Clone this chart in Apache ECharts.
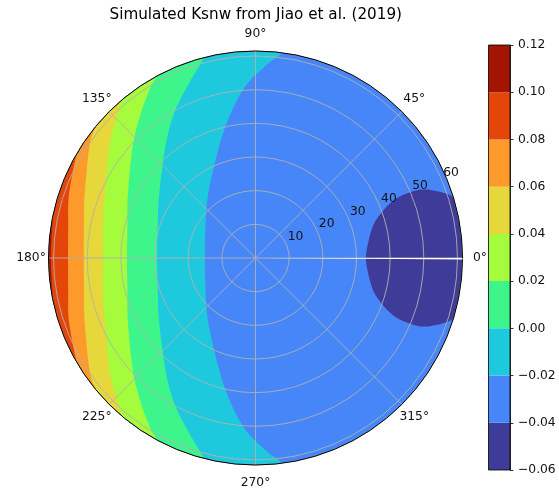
<!DOCTYPE html>
<html>
<head>
<meta charset="utf-8">
<script src="https://cdn.jsdelivr.net/npm/echarts@6/dist/echarts.min.js"></script>
<style>
html, body { margin: 0; padding: 0; background: #fff; }
#chart { width: 559px; height: 490px; }
</style>
</head>
<body>
<div id="chart"></div>
<script>
// Contour levels of Ksnw and the colour of each filled band between two levels
const levels = [-0.06, -0.04, -0.02, 0.00, 0.02, 0.04, 0.06, 0.08, 0.10, 0.12];
const bandColors = ['#3f3b98', '#4686f9', '#1fc9dd', '#3ef58c', '#a4fc3c',
                    '#e6d83a', '#fe9a2c', '#e4460a', '#a41402'];

// Contour lines as [radius, angle°] points, running from the upper rim to the lower rim.
// Level -0.04 closes round the 0° side (lower half written with negative angles).
const contourM004 = [[61.5, 17], [59.9, 18.6], [54.6, 21.9], [50.3, 23.0], [45.3, 22.9],
  [40.9, 20.7], [36.7, 16.2], [34.1, 9.1], [32.8, 0], [34.1, -9.1], [36.7, -16.2],
  [40.9, -20.7], [45.3, -22.9], [50.3, -23.0], [54.6, -21.9], [59.9, -18.6], [61.5, -17]];
const contourM002 = [[61.5, 82.5], [60.1, 83.8], [57.4, 86.8], [51.4, 93.1], [44.0, 99.4],
  [35.2, 107.7], [23.4, 127.1], [16.6, 154], [15.0, 180], [16.6, 206], [23.4, 232.9],
  [35.2, 252.3], [44.0, 260.6], [51.4, 266.9], [57.4, 273.2], [60.1, 276.2], [61.5, 277.5]];
const contour000 = [[61.5, 104.2], [59.6, 106.2], [55.1, 111.4], [49.6, 119.0], [42.9, 128.5],
  [34.2, 146.9], [30.4, 163], [29.3, 180], [30.4, 197], [34.2, 213.1], [42.9, 231.5],
  [49.6, 241.0], [55.1, 248.6], [59.6, 253.8], [61.5, 255.8]];
const contour002 = [[61.5, 118.1], [59.9, 121.1], [55.1, 128.0], [49.5, 137.4], [42.3, 153.7],
  [39.3, 165.5], [38.2, 180], [39.3, 194.5], [42.3, 206.3], [49.5, 222.6], [55.1, 232.0],
  [59.9, 238.9], [61.5, 241.9]];
const contour004 = [[61.5, 130.2], [59.6, 133.3], [54.8, 142.3], [48.5, 157.4], [46.4, 167.8],
  [45.3, 180], [46.4, 192.2], [48.5, 202.6], [54.8, 217.7], [59.6, 226.7], [61.5, 229.8]];
const contour006 = [[61.5, 140.6], [59.6, 145.8], [54.1, 159.8], [51.9, 169.1], [51.0, 180],
  [51.9, 190.9], [54.1, 200.2], [59.6, 214.2], [61.5, 219.4]];
const contour008 = [[61.5, 150], [58.5, 161.4], [56.5, 170], [55.7, 180], [56.5, 190],
  [58.5, 198.6], [61.5, 210]];
const contour010 = [[61.5, 168], [60.8, 180], [61.5, 192]];

const radialTicks = [10, 20, 30, 40, 50, 60];
const angleTicks = [0, 45, 90, 135, 180, 225, 270, 315];
const rMax = 61.5;
const rLabelAngle = 22.5;

// Paint order: whole disk, then each "value above level" region, then the low pocket at 0°
const fills = [
  { line: null, band: 1 },
  { line: contourM002, band: 2 },
  { line: contour000, band: 3 },
  { line: contour002, band: 4 },
  { line: contour004, band: 5 },
  { line: contour006, band: 6 },
  { line: contour008, band: 7 },
  { line: contour010, band: 8 },
  { line: contourM004, band: 0 }
];

const FONT = 'DejaVu Sans';

// Catmull-Rom smoothing of a pixel polyline
function smoothLine(pts) {
  const out = [];
  const n = pts.length;
  for (let i = 0; i < n - 1; i++) {
    const p0 = pts[Math.max(i - 1, 0)], p1 = pts[i], p2 = pts[i + 1], p3 = pts[Math.min(i + 2, n - 1)];
    for (let s = 0; s < 12; s++) {
      const t = s / 12, t2 = t * t, t3 = t2 * t;
      const f = k => 0.5 * ((2 * p1[k]) + (-p0[k] + p2[k]) * t +
        (2 * p0[k] - 5 * p1[k] + 4 * p2[k] - p3[k]) * t2 +
        (-p0[k] + 3 * p1[k] - 3 * p2[k] + p3[k]) * t3);
      out.push([f(0), f(1)]);
    }
  }
  out.push(pts[n - 1]);
  return out;
}

function rimArc(api, a0, a1) {
  const n = Math.max(2, Math.ceil(Math.abs(a1 - a0)));
  const out = [];
  for (let k = 0; k <= n; k++) out.push(api.coord([rMax, a0 + (a1 - a0) * k / n]));
  return out;
}

function renderFill(params, api) {
  const f = fills[params.dataIndex];
  let points;
  if (!f.line) {
    points = rimArc(api, 0, 360);
  } else {
    const px = f.line.map(p => api.coord([p[0], p[1]]));
    const first = f.line[0][1], last = f.line[f.line.length - 1][1];
    points = smoothLine(px).concat(rimArc(api, last, first));
  }
  return {
    type: 'polygon',
    shape: { points: points },
    style: { fill: bandColors[f.band], stroke: null }
  };
}

const chart = echarts.init(document.getElementById('chart'), null, { renderer: 'canvas' });

const option = {
  backgroundColor: '#fff',
  animation: false,
  graphic: [{
    type: 'text',
    x: 255.8, y: 15,
    style: {
      text: 'Simulated Ksnw from Jiao et al. (2019)',
      font: '15.2px "' + FONT + '"',
      fill: '#000',
      align: 'center',
      verticalAlign: 'middle'
    }
  }],
  polar: { center: [255.5, 258], radius: 207 },
  angleAxis: {
    type: 'value', min: 0, max: 360, interval: 45,
    startAngle: 0, clockwise: false, z: 3,
    axisLine: { show: true, lineStyle: { color: '#000', width: 1 } },
    axisTick: { show: false },
    axisLabel: { show: false },
    splitLine: { show: true, lineStyle: { color: '#b0b0b0', width: 0.9 } }
  },
  radiusAxis: {
    type: 'value', min: 0, max: rMax, interval: 10, z: 3,
    axisLine: { show: false }, axisTick: { show: false }, axisLabel: { show: false },
    splitLine: { show: true, lineStyle: { color: '#b0b0b0', width: 0.9 } }
  },
  grid: {
    left: 488.5, top: 45, width: 21.5, height: 425,
    show: true, borderColor: '#000', borderWidth: 0.8, backgroundColor: 'transparent', z: 3
  },
  xAxis: { type: 'category', data: ['Ksnw'], show: false },
  yAxis: {
    type: 'value', min: levels[0], max: levels[levels.length - 1], interval: 0.02,
    position: 'right', z: 4,
    axisLine: { show: true, lineStyle: { color: '#000', width: 0.8 } },
    axisTick: { show: true, inside: false, length: 3.5, lineStyle: { color: '#000', width: 0.8 } },
    axisLabel: {
      margin: 8, fontSize: 12.3, fontFamily: FONT, color: '#111',
      formatter: v => (Math.abs(v) < 1e-9 ? 0 : v).toFixed(2).replace('-', '\u2212')
    },
    splitLine: { show: false }
  },
  series: [
    {
      // filled contour bands
      type: 'custom', coordinateSystem: 'polar', z: 2, silent: true,
      data: fills.map((f, i) => [0, 0, i]),
      renderItem: renderFill
    },
    {
      // wrap-around seam along 0°
      type: 'custom', coordinateSystem: 'polar', z: 4, silent: true,
      data: [[0, 0]],
      renderItem: (params, api) => ({
        type: 'polygon',
        shape: { points: [api.coord([0, 0]), api.coord([rMax, 0]), api.coord([rMax, -0.4])] },
        style: { fill: '#fff', stroke: null }
      })
    },
    {
      // angle tick labels round the rim
      type: 'custom', coordinateSystem: 'polar', z: 5, silent: true,
      data: angleTicks.map(a => [rMax, a]),
      renderItem: (params, api) => {
        const c = api.coord([0, 0]);
        const p = api.coord([api.value(0), api.value(1)]);
        const dx = p[0] - c[0], dy = p[1] - c[1], d = Math.hypot(dx, dy);
        const pad = 17.5;
        return {
          type: 'text',
          x: p[0] + dx / d * pad, y: p[1] + dy / d * pad,
          style: {
            text: api.value(1) + '°', font: '12.3px "' + FONT + '"', fill: '#111',
            align: 'center', verticalAlign: 'middle'
          }
        };
      }
    },
    {
      // radial tick labels
      type: 'custom', coordinateSystem: 'polar', z: 5, silent: true,
      data: radialTicks.map(r => [r, rLabelAngle]),
      renderItem: (params, api) => {
        const p = api.coord([api.value(0), api.value(1)]);
        return {
          type: 'text',
          x: p[0] + 9, y: p[1] - 8,
          style: {
            text: String(api.value(0)), font: '12.3px "' + FONT + '"', fill: '#111',
            align: 'center', verticalAlign: 'middle'
          }
        };
      }
    },
    {
      // colour bar blocks
      type: 'custom', coordinateSystem: 'cartesian2d', z: 1, silent: true,
      encode: { x: 0, y: [1, 2] },
      data: levels.slice(0, -1).map((lo, i) => [0, lo, levels[i + 1], i]),
      renderItem: (params, api) => {
        const lo = api.coord([0, api.value(1)]);
        const hi = api.coord([0, api.value(2)]);
        const w = api.size([1, 0])[0];
        return {
          type: 'rect',
          shape: { x: lo[0] - w / 2, y: hi[1], width: w, height: lo[1] - hi[1] },
          style: { fill: bandColors[api.value(3)], stroke: null }
        };
      }
    }
  ]
};

chart.setOption(option);
</script>
</body>
</html>
